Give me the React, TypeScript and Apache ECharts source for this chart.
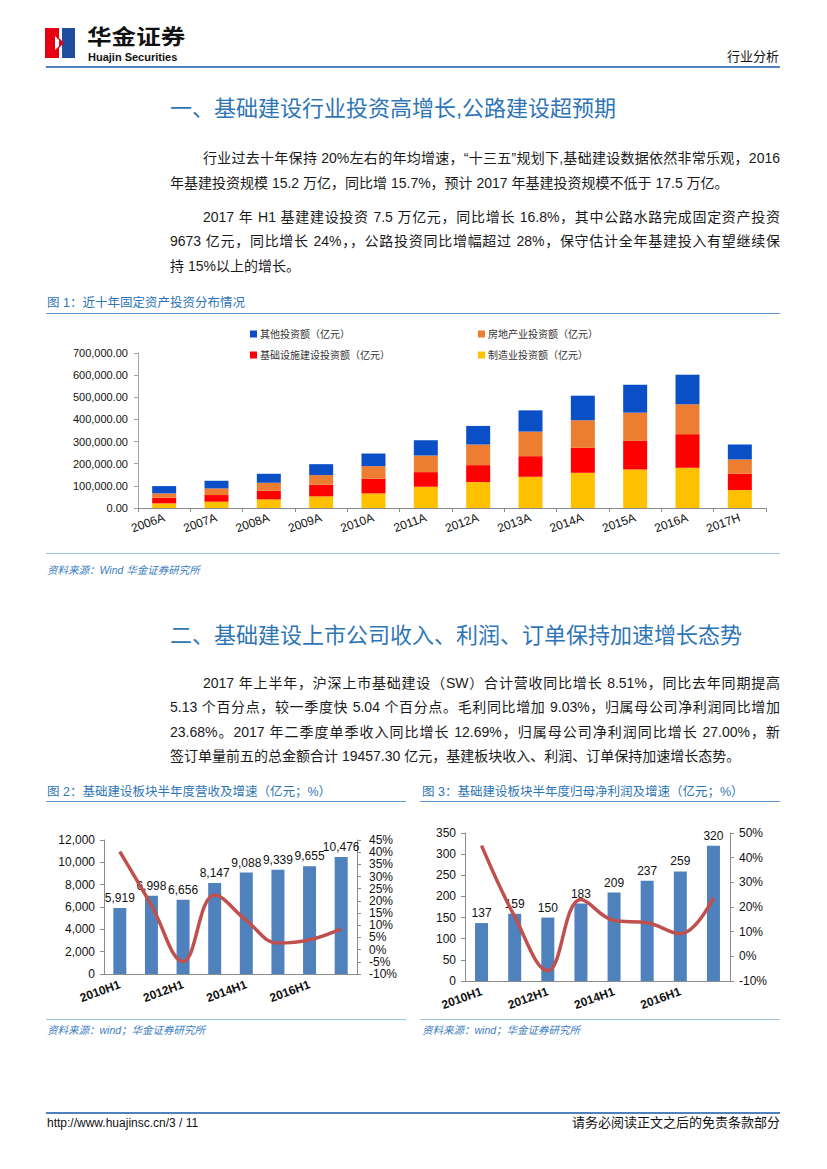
import React, { useEffect, useRef } from "react";
import * as echarts from "echarts";

// ---------- Figure 1 data (亿元) ----------
const years = ["2006A", "2007A", "2008A", "2009A", "2010A", "2011A", "2012A", "2013A", "2014A", "2015A", "2016A", "2017H"];
const manufacturing = [21000, 28500, 39000, 52500, 66000, 96000, 117000, 141000, 159000, 174000, 181700, 81000];
const infrastructure = [25500, 30000, 39000, 52500, 66000, 66000, 76600, 93000, 112600, 129000, 151700, 73600];
const realEstate = [19500, 30000, 36000, 43500, 57000, 75000, 93000, 111000, 124600, 127600, 135000, 64600];
const otherInvest = [33000, 34500, 40500, 49500, 57000, 69000, 84000, 96000, 111000, 126000, 133600, 67600];
const seriesNames = ["制造业投资额（亿元）", "基础设施建设投资额（亿元）", "房地产业投资额（亿元）", "其他投资额（亿元）"];

// ---------- Figure 2 / 3 data ----------
const halfYears = ["2010H1", "2011H1", "2012H1", "2013H1", "2014H1", "2015H1", "2016H1", "2017H1"];
const revenue = [5919, 6998, 6656, 8147, 9088, 9339, 9655, 10476];
const revenueGrowth = [40.2, 18.2, -4.9, 22.4, 12.0, 2.7, 4.0, 8.5];
const profit = [137, 159, 150, 183, 209, 237, 259, 320];
const profitGrowth = [44.9, 16.1, -5.8, 23.0, 14.5, 13.6, 9.2, 23.7];

const FONT = "'Liberation Sans', Arial, 'Noto Sans CJK SC', sans-serif";
const BLUE = "#2E75B6";

const comma = (v: number) => Number(v).toLocaleString("en-US");

function buildOption(): any {
  const axisGray = "#8C8C8C";
  const lbl = { fontSize: 11, color: "#111", fontFamily: FONT };
  return {
    animation: false,
    textStyle: { fontFamily: FONT },
    legend: [
      { data: [seriesNames[3]], left: 250, top: 329 },
      { data: [seriesNames[2]], left: 478, top: 329 },
      { data: [seriesNames[1]], left: 250, top: 350 },
      { data: [seriesNames[0]], left: 478, top: 350 },
    ].map((l) => ({
      ...l,
      icon: "rect",
      itemWidth: 7,
      itemHeight: 7,
      itemGap: 4,
      padding: 0,
      textStyle: { fontSize: 10, color: "#333", fontFamily: FONT, padding: [0, 0, 0, -2] },
    })),
    grid: [
      { left: 138, top: 353, width: 628, height: 155 },
      { left: 104, top: 840, width: 253, height: 134 },
      { left: 465, top: 833, width: 265, height: 148 },
    ],
    xAxis: [
      {
        gridIndex: 0,
        type: "category",
        data: years,
        axisLine: { lineStyle: { color: axisGray } },
        axisTick: { show: true, length: 4, lineStyle: { color: axisGray } },
        axisLabel: { ...lbl, fontSize: 12, rotate: 20, interval: 0, margin: 9 },
      },
      {
        gridIndex: 1,
        type: "category",
        data: halfYears,
        axisLine: { lineStyle: { color: axisGray } },
        axisTick: { show: false },
        axisLabel: { ...lbl, fontSize: 12, fontWeight: "bold", rotate: 20, interval: 1, margin: 10 },
      },
      {
        gridIndex: 2,
        type: "category",
        data: halfYears,
        axisLine: { lineStyle: { color: axisGray } },
        axisTick: { show: false },
        axisLabel: { ...lbl, fontSize: 12, fontWeight: "bold", rotate: 20, interval: 1, margin: 10 },
      },
    ],
    yAxis: [
      {
        gridIndex: 0,
        type: "value",
        min: 0,
        max: 700000,
        interval: 100000,
        axisLine: { show: true, lineStyle: { color: "#A6A6A6" } },
        axisTick: { show: true, length: 4, lineStyle: { color: "#A6A6A6" } },
        splitLine: { show: false },
        axisLabel: {
          ...lbl,
          margin: 10,
          formatter: (v: number) => v.toLocaleString("en-US", { minimumFractionDigits: 2, maximumFractionDigits: 2 }),
        },
      },
      {
        gridIndex: 1,
        type: "value",
        min: 0,
        max: 12000,
        interval: 2000,
        axisLine: { show: true, lineStyle: { color: axisGray } },
        axisTick: { show: true, length: 4, lineStyle: { color: axisGray } },
        splitLine: { show: false },
        axisLabel: { ...lbl, fontSize: 12, margin: 9, formatter: comma },
      },
      {
        gridIndex: 1,
        type: "value",
        position: "right",
        min: -10,
        max: 45,
        interval: 5,
        axisLine: { show: true, lineStyle: { color: axisGray } },
        axisTick: { show: true, length: 4, lineStyle: { color: axisGray } },
        splitLine: { show: false },
        axisLabel: { ...lbl, fontSize: 12, margin: 12, formatter: "{value}%" },
      },
      {
        gridIndex: 2,
        type: "value",
        min: 0,
        max: 350,
        interval: 50,
        axisLine: { show: true, lineStyle: { color: axisGray } },
        axisTick: { show: true, length: 4, lineStyle: { color: axisGray } },
        splitLine: { show: false },
        axisLabel: { ...lbl, fontSize: 12, margin: 9 },
      },
      {
        gridIndex: 2,
        type: "value",
        position: "right",
        min: -10,
        max: 50,
        interval: 10,
        axisLine: { show: true, lineStyle: { color: axisGray } },
        axisTick: { show: true, length: 4, lineStyle: { color: axisGray } },
        splitLine: { show: false },
        axisLabel: { ...lbl, fontSize: 12, margin: 9, formatter: "{value}%" },
      },
    ],
    series: [
      { name: seriesNames[0], data: manufacturing, color: "#FFC000" },
      { name: seriesNames[1], data: infrastructure, color: "#FF0000" },
      { name: seriesNames[2], data: realEstate, color: "#ED7D31" },
      { name: seriesNames[3], data: otherInvest, color: "#0B4FC6" },
    ]
      .map((s) => ({
        ...s,
        type: "bar",
        stack: "fai",
        xAxisIndex: 0,
        yAxisIndex: 0,
        barWidth: 24,
        itemStyle: { color: s.color },
      }))
      .concat([
        {
          name: "营收",
          type: "bar",
          xAxisIndex: 1,
          yAxisIndex: 1,
          data: revenue,
          barWidth: 13,
          itemStyle: { color: "#4F81BD" },
          label: { show: true, position: "top", distance: 4, fontSize: 12, color: "#111", fontFamily: FONT, formatter: (p: any) => comma(p.value) },
        } as any,
        {
          name: "营收增速",
          type: "line",
          xAxisIndex: 1,
          yAxisIndex: 2,
          data: revenueGrowth,
          smooth: 0.4,
          symbol: "none",
          z: 5,
          lineStyle: { color: "#C0504D", width: 3.5 },
        } as any,
        {
          name: "归母净利润",
          type: "bar",
          xAxisIndex: 2,
          yAxisIndex: 3,
          data: profit,
          barWidth: 13,
          itemStyle: { color: "#4F81BD" },
          label: { show: true, position: "top", distance: 4, fontSize: 12, color: "#111", fontFamily: FONT },
        } as any,
        {
          name: "归母净利润增速",
          type: "line",
          xAxisIndex: 2,
          yAxisIndex: 4,
          data: profitGrowth,
          smooth: 0.4,
          symbol: "none",
          z: 5,
          lineStyle: { color: "#C0504D", width: 3.5 },
        } as any,
      ]),
  };
}

const abs = (s: React.CSSProperties): React.CSSProperties => ({ position: "absolute", ...s });

function TextLine({ x, y, w, text, justify, size = 14 }: { x: number; y: number; w: number; text: string; justify?: boolean; size?: number }) {
  return (
    <div
      style={abs({
        left: x,
        top: y - 12,
        width: w,
        height: 24,
        lineHeight: "24px",
        fontSize: size,
        color: "#1a1a1a",
        whiteSpace: "nowrap",
        textAlign: justify ? "justify" : "left",
        textAlignLast: justify ? "justify" : "left",
      } as any)}
    >
      {text}
    </div>
  );
}

function HLine({ x, y, w, h = 1, color }: { x: number; y: number; w: number; h?: number; color: string }) {
  return <div style={abs({ left: x, top: y, width: w, height: h, background: color })} />;
}

export default function App() {
  const ref = useRef<HTMLDivElement>(null);
  useEffect(() => {
    if (!ref.current) return;
    const chart = echarts.init(ref.current, undefined, { renderer: "svg" });
    chart.setOption(buildOption());
    return () => chart.dispose();
  }, []);

  const caption = (x: number, y: number, text: string) => (
    <div style={abs({ left: x, top: y - 9, height: 18, lineHeight: "18px", fontSize: 12.5, color: BLUE, whiteSpace: "nowrap" })}>{text}</div>
  );
  const source = (x: number, y: number, text: string) => (
    <div style={abs({ left: x, top: y - 8, height: 16, lineHeight: "16px", fontSize: 10.5, color: "#3B7CC0", fontStyle: "italic", whiteSpace: "nowrap" })}>{text}</div>
  );
  const title = (y: number, text: string) => (
    <div style={abs({ left: 170, top: y - 15, height: 30, lineHeight: "30px", fontSize: 22, color: BLUE, whiteSpace: "nowrap" })}>{text}</div>
  );

  return (
    <div style={abs({ left: 0, top: 0, width: 827, height: 1169, background: "#fff", fontFamily: FONT, overflow: "hidden" })}>
      <div ref={ref} style={abs({ left: 0, top: 0, width: 827, height: 1169 })} />

      {/* Header */}
      <svg style={abs({ left: 45, top: 28 })} width={30} height={30} viewBox="0 0 30 30">
        <rect x={0} y={0} width={14} height={30} fill="#E60012" />
        <rect x={17} y={0} width={13} height={30} fill="#1F4E9E" />
        <polygon points="10,8 17,15 10,22" fill="#fff" />
        <polygon points="14,10 19,15 14,20" fill="#E60012" />
      </svg>
      <div
        style={abs({
          left: 87,
          top: 25,
          height: 21,
          lineHeight: "21px",
          fontSize: 21,
          fontWeight: "bold",
          color: "#111",
          whiteSpace: "nowrap",
          transform: "scaleX(1.17)",
          transformOrigin: "0 0",
          fontFamily: "'Noto Sans CJK SC', sans-serif",
        })}
      >
        华金证券
      </div>
      <div style={abs({ left: 88, top: 51, height: 12, lineHeight: "12px", fontSize: 11, fontWeight: "bold", color: "#111", whiteSpace: "nowrap" })}>Huajin Securities</div>
      <div style={abs({ left: 727, top: 48, height: 18, lineHeight: "18px", fontSize: 13, color: "#111" })}>行业分析</div>
      <HLine x={46} y={66} w={734} h={2} color="#4F81BD" />

      {/* Section 1 */}
      {title(109, "一、基础建设行业投资高增长,公路建设超预期")}
      <TextLine x={203} y={158} w={577} justify text="行业过去十年保持 20%左右的年均增速，“十三五”规划下,基础建设数据依然非常乐观，2016" />
      <TextLine x={170} y={183} w={610} text="年基建投资规模 15.2 万亿，同比增 15.7%，预计 2017 年基建投资规模不低于 17.5 万亿。" />
      <TextLine x={203} y={217} w={577} justify text="2017 年 H1 基建建设投资 7.5 万亿元，同比增长 16.8%，其中公路水路完成固定资产投资" />
      <TextLine x={170} y={241} w={610} justify text="9673 亿元，同比增长 24%，，公路投资同比增幅超过 28%，保守估计全年基建投入有望继续保" />
      <TextLine x={170} y={266} w={610} text="持 15%以上的增长。" />

      {/* Figure 1 */}
      {caption(47, 303, "图 1：近十年固定资产投资分布情况")}
      <HLine x={46} y={313} w={734} color="#5B9BD5" />
      <HLine x={46} y={553} w={734} color="#9DC3E6" />
      {source(47, 570, "资料来源：Wind  华金证券研究所")}

      {/* Section 2 */}
      {title(636, "二、基础建设上市公司收入、利润、订单保持加速增长态势")}
      <TextLine x={203} y={683} w={577} justify text="2017 年上半年，沪深上市基础建设（SW）合计营收同比增长 8.51%，同比去年同期提高" />
      <TextLine x={170} y={707} w={610} justify text="5.13 个百分点，较一季度快 5.04 个百分点。毛利同比增加 9.03%，归属母公司净利润同比增加" />
      <TextLine x={170} y={732} w={610} justify text="23.68%。2017 年二季度单季收入同比增长 12.69%，归属母公司净利润同比增长 27.00%，新" />
      <TextLine x={170} y={756} w={610} text="签订单量前五的总金额合计 19457.30 亿元，基建板块收入、利润、订单保持加速增长态势。" />

      {/* Figure 2 & 3 */}
      {caption(47, 792, "图 2：基础建设板块半年度营收及增速（亿元；%）")}
      {caption(422, 792, "图 3：基础建设板块半年度归母净利润及增速（亿元；%）")}
      <HLine x={46} y={801} w={360} color="#5B9BD5" />
      <HLine x={420} y={801} w={360} color="#5B9BD5" />
      <HLine x={46} y={1019} w={360} color="#9DC3E6" />
      <HLine x={420} y={1019} w={360} color="#9DC3E6" />
      {source(47, 1030, "资料来源：wind；华金证券研究所")}
      {source(422, 1030, "资料来源：wind；华金证券研究所")}

      {/* Footer */}
      <HLine x={46} y={1112} w={734} h={2} color="#4F81BD" />
      <div style={abs({ left: 47, top: 1115, height: 16, lineHeight: "16px", fontSize: 12, color: "#111" })}>http://www.huajinsc.cn/3 / 11</div>
      <div style={abs({ left: 480, width: 300, top: 1114, height: 18, lineHeight: "18px", fontSize: 13, color: "#111", textAlign: "right" })}>
        请务必阅读正文之后的免责条款部分
      </div>
    </div>
  );
}
